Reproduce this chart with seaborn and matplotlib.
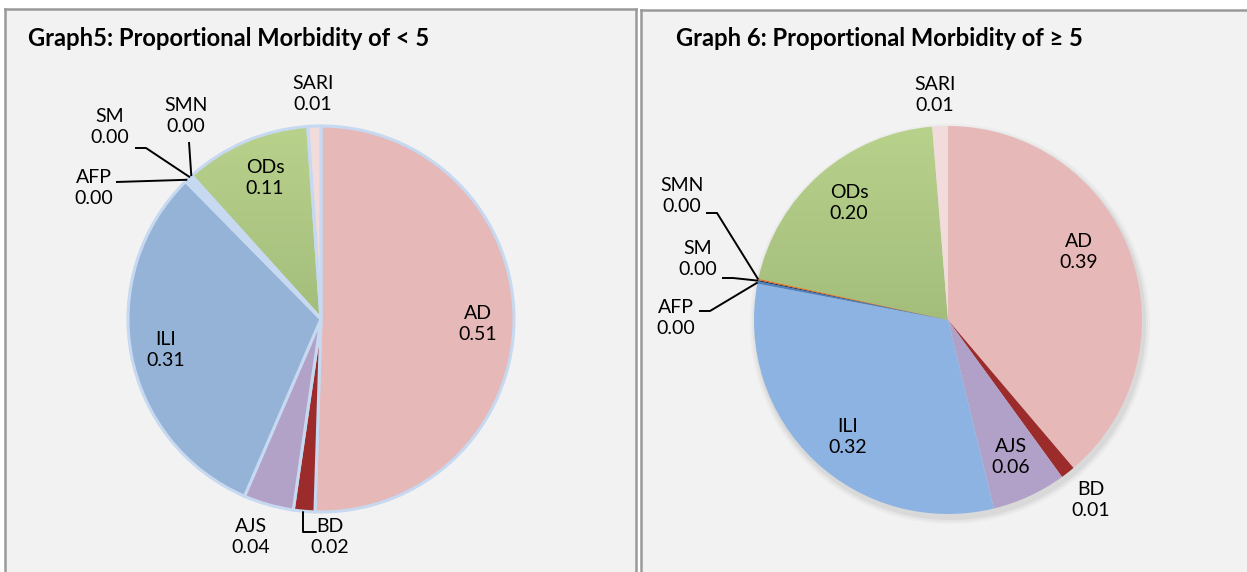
import numpy as np
import matplotlib
matplotlib.use("Agg")
import matplotlib.pyplot as plt
import seaborn as sns
from matplotlib.colors import LinearSegmentedColormap
from matplotlib.patches import Circle

# ---------------- data ----------------
categories = ["AD", "BD", "AJS", "ILI", "AFP", "SM", "SMN", "ODs", "SARI"]
under5 = [0.506, 0.018, 0.042, 0.312, 0.004, 0.002, 0.001, 0.106, 0.011]
over5 = [0.388, 0.012, 0.062, 0.318, 0.002, 0.001, 0.001, 0.203, 0.013]
title_left = "Graph5: Proportional Morbidity of < 5"
title_right = "Graph 6: Proportional Morbidity of \u2265 5"

# ---------------- style ----------------
sns.set_theme(style="white")
plt.rcParams["font.family"] = ["Lato", "DejaVu Sans"]

colors_left = sns.color_palette(["#e6b9b8", "#9b2c2b", "#b3a2c7", "#95b3d7", "#c6d9f1",
                                 "#1f3864", "#c0504d", "#a5bf7e", "#f2dcdb"])
colors_right = sns.color_palette(["#e6b9b8", "#9b2c2b", "#b1a0c7", "#8db3e2", "#4f81bd",
                                  "#1f3864", "#e46c0a", "#a5bf7e", "#f2dcdb"])
green_grad = LinearSegmentedColormap.from_list("g", ["#8fa86b", "#b8d28c"])

W, H = 1247, 572
fig = plt.figure(figsize=(W / 100, H / 100), dpi=100)
fig.patch.set_facecolor("white")


def Y(y):
    return H - y


def panel(x0, x1, ytop, right_border=True):
    ax = fig.add_axes([x0 / W, 0, (x1 - x0) / W, (H - ytop) / H])
    ax.set_facecolor("#f2f2f2")
    for s in ["left", "top", "right"]:
        ax.spines[s].set_visible(True)
        ax.spines[s].set_color("#9a9a9a")
        ax.spines[s].set_linewidth(1.8)
    ax.spines["bottom"].set_visible(False)
    ax.spines["right"].set_visible(right_border)
    return ax


def draw(ax, x0, x1, ytop, vals, cols, center, r, edge, lw, label_pos, leaders, title, title_x, shadow):
    cx, cy = center[0], Y(center[1])
    if shadow:
        for k, a in zip([6, 4, 2], [0.05, 0.07, 0.10]):
            ax.add_patch(Circle((cx + 2, cy - 4), r + k, color="#7f7f7f", alpha=a, lw=0, zorder=0.5))
    wedges, _ = ax.pie(vals, colors=cols, startangle=90, counterclock=False,
                       center=(cx, cy), radius=r, frame=True,
                       wedgeprops=dict(edgecolor=edge, linewidth=lw))
    # gradient fill for ODs
    w = wedges[categories.index("ODs")]
    grad = np.linspace(0, 1, 256).reshape(-1, 1)
    im = ax.imshow(grad, cmap=green_grad, origin="lower", aspect="auto",
                   extent=(cx - r, cx + r, cy - r, cy + r), zorder=w.get_zorder() - 0.01)
    im.set_clip_path(w)
    w.set_facecolor("none")
    w.set_zorder(w.get_zorder() + 0.1)

    ax.set_xlim(x0, x1)
    ax.set_ylim(0, H - ytop)
    ax.set_xticks([])
    ax.set_yticks([])
    ax.set_frame_on(True)

    for cat, v, w in zip(categories, vals, wedges):
        px, py = label_pos[cat]
        ax.text(px, Y(py), f"{cat}\n{v:.2f}", ha="center", va="center",
                fontsize=14, linespacing=1.35, color="black", zorder=5)
        if cat in leaders:
            th = np.deg2rad((w.theta1 + w.theta2) / 2)
            ex, ey = cx + r * np.cos(th), cy + r * np.sin(th)
            pts = leaders[cat]
            xs = [p[0] for p in pts] + [ex]
            ys = [Y(p[1]) for p in pts] + [ey]
            ax.plot(xs, ys, color="black", lw=1.4, zorder=6, solid_capstyle="butt")
    ax.text(title_x, Y(46), title, ha="left", va="baseline", fontsize=17.1,
            fontweight="bold", color="black", zorder=5)


# left panel
axL = panel(5, 636, 9)
pos_left = {"AD": (478, 324), "BD": (330, 537), "AJS": (251, 537), "ILI": (166, 350),
            "AFP": (94, 188), "SM": (110, 127), "SMN": (186, 116), "ODs": (265, 178),
            "SARI": (313, 94)}
lead_left = {"AFP": [(116, 182)], "SM": [(135, 148), (146, 148)], "SMN": [(189, 142)]}
draw(axL, 5, 636, 9, under5, colors_left, (321, 319), 193, "#c6d9f1", 2.2,
     pos_left, lead_left, title_left, 28, False)
# BD leader (below the pie)
axL.plot([303, 303, 316], [Y(512), Y(532), Y(532)], color="black", lw=1.4, zorder=6)

# right panel
axR = panel(641, 1252, 10, right_border=False)
pos_right = {"AD": (1079, 252), "BD": (1091, 500), "AJS": (1011, 457), "ILI": (848, 437),
             "AFP": (676, 318), "SM": (698, 259), "SMN": (682, 196), "ODs": (849, 203),
             "SARI": (935, 95)}
lead_right = {"AFP": [(699, 311), (710, 311)], "SM": [(722, 278), (733, 278)],
              "SMN": [(706, 213), (717, 213)]}
draw(axR, 641, 1252, 10, over5, colors_right, (948, 320), 194, "none", 0,
     pos_right, lead_right, title_right, 676, True)

fig.savefig("out.png", dpi=100, facecolor="white")
